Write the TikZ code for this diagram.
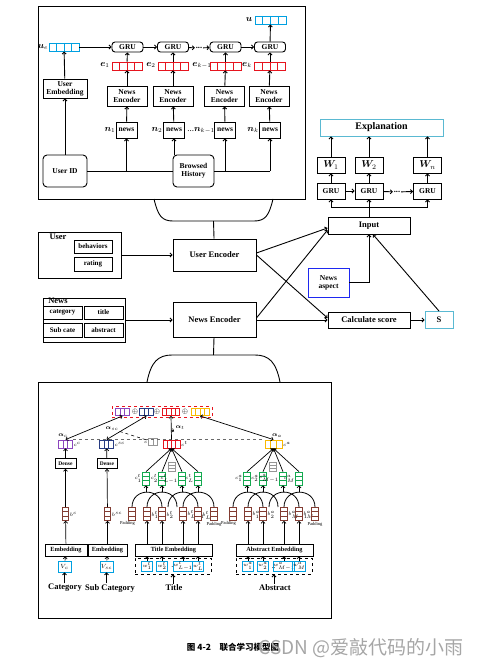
\documentclass[tikz,border=0pt]{standalone}
\usepackage{fontspec}
\setmainfont{Liberation Serif}
\newfontfamily\cjk{Noto Sans CJK SC}
\usepackage{bm}
\usetikzlibrary{arrows.meta}
\usetikzlibrary{calc}

\definecolor{vecblue}{RGB}{0,160,225}
\definecolor{vecred}{RGB}{230,20,30}
\definecolor{expcyan}{RGB}{90,185,210}
\definecolor{aspblue}{RGB}{30,40,240}
\definecolor{vpurple}{RGB}{140,70,190}
\definecolor{vnavy}{RGB}{40,60,130}
\definecolor{vorange}{RGB}{250,185,0}
\definecolor{vgreen}{RGB}{20,170,80}
\definecolor{vbrown}{RGB}{130,60,50}
\definecolor{vgray}{RGB}{150,150,150}

\tikzset{
	box/.style={draw, line width=0.9pt, inner sep=0.5pt, align=center, font=\bfseries\fontsize{7.5}{8}\selectfont},
	rbox/.style={box, rounded corners=4pt},
	gru/.style={box, rounded corners=3pt, minimum width=31, minimum height=10},
	midbox/.style={box, font=\bfseries\fontsize{8.5}{9.5}\selectfont},
	smbox/.style={box, font=\bfseries\fontsize{7}{8}\selectfont},
	tinybox/.style={box, line width=0.8pt, font=\bfseries\fontsize{5.5}{6}\selectfont},
	txt/.style={inner sep=0.5pt, font=\bfseries\fontsize{8.5}{9.5}\selectfont},
	mlab/.style={inner sep=1pt, font=\fontsize{9}{10}\selectfont},
	tag/.style={inner sep=0.3pt, font=\fontsize{4.5}{5}\selectfont},
	hvec/.style n args={4}{draw=#1, line width=0.8pt, minimum width=#3, minimum height=#4, inner sep=0pt,
		path picture={\foreach \k in {1,...,#2}{\draw[#1, line width=0.8pt] ($(path picture bounding box.north west)!{\k/#2}!(path picture bounding box.north east)$) -- ($(path picture bounding box.south west)!{\k/#2}!(path picture bounding box.south east)$);}}},
	vvec/.style={draw=#1, line width=0.7pt, minimum width=6.5, minimum height=13, inner sep=0pt,
		path picture={\foreach \k in {1,2}{\draw[#1, line width=0.7pt] ($(path picture bounding box.north west)!{\k/3}!(path picture bounding box.south west)$) -- ($(path picture bounding box.north east)!{\k/3}!(path picture bounding box.south east)$);}}},
	wbox/.style={draw=vecblue, line width=0.7pt, minimum width=11, minimum height=10, inner sep=0pt, font=\fontsize{4}{4.5}\selectfont},
}

\begin{document}
\begin{tikzpicture}[x=1pt, y=-1pt, line width=0.9pt, >={Straight Barb[length=2pt,width=4pt]}]
	\useasboundingbox (0,0) rectangle (483,668);

	% user side, top box
	\draw (38,6) rectangle (305,199);
	\node[hvec={vecblue}{4}{30}{8}, line width=0.9pt] (ue) at (64,47) {};
	\node[mlab] (uelbl) at (43,47) {$\bm{u}_e$};
	\node[hvec={vecblue}{4}{31}{8}, line width=0.9pt] (u) at (270.5,20) {};
	\node[mlab] (ulbl) at (249,20) {$\bm{u}$};
	\node[gru] (gru1) at (127.5,47) {GRU};
	\node[gru] (gru2) at (173,47) {GRU};
	\node[txt] (gdots) at (199,48) {...};
	\node[gru] (gru3) at (225.5,47) {GRU};
	\node[gru] (gru4) at (270,47) {GRU};
	\draw[->] (ue) -- (gru1);
	\draw[->] (gru1) -- (gru2);
	\draw[->] (gru2) -- (gdots);
	\draw[->] (gdots) -- (gru3);
	\draw[->] (gru3) -- (gru4);
	\draw[->] (gru4) -- (u);
	\node[hvec={vecred}{4}{30}{8}, line width=0.9pt] (e1) at (127,66) {};
	\node[hvec={vecred}{4}{30}{8}, line width=0.9pt] (e2) at (173,66) {};
	\node[hvec={vecred}{4}{31}{8}, line width=0.9pt] (e3) at (225.5,66) {};
	\node[hvec={vecred}{4}{31}{8}, line width=0.9pt] (e4) at (270,66) {};
	\node[mlab] (e1lbl) at (105,65) {$\bm{e}_1$};
	\node[mlab] (e2lbl) at (151,65) {$\bm{e}_2$};
	\node[mlab] (e3lbl) at (202,65) {$\bm{e}_{k-1}$};
	\node[mlab] (e4lbl) at (247,65) {$\bm{e}_k$};
	\draw[->] (e1) -- (gru1);
	\draw[->] (e2) -- (gru2);
	\draw[->] (e3) -- (gru3);
	\draw[->] (e4) -- (gru4);
	\node[box, minimum width=40, minimum height=20] (enc1) at (127,96) {News\\Encoder};
	\node[box, minimum width=40, minimum height=20] (enc2) at (173,96) {News\\Encoder};
	\node[box, minimum width=40, minimum height=20] (enc3) at (224.5,96) {News\\Encoder};
	\node[box, minimum width=40, minimum height=20] (enc4) at (269,96) {News\\Encoder};
	\draw[->] (enc1) -- (e1);
	\draw[->] (enc2) -- (e2);
	\draw[->] (enc3) -- (e3);
	\draw[->] (enc4) -- (e4);
	\node[box, minimum width=21, minimum height=16] (nw1) at (126.5,130) {news};
	\node[box, minimum width=21, minimum height=16] (nw2) at (174,130) {news};
	\node[box, minimum width=21, minimum height=16] (nw3) at (225,130) {news};
	\node[box, minimum width=21, minimum height=16] (nw4) at (270,130) {news};
	\node[mlab] (n1lbl) at (110,130) {$\bm{n}_1$};
	\node[mlab] (n2lbl) at (157,130) {$\bm{n}_2$};
	\node[mlab] (n3lbl) at (201,130) {...$\bm{n}_{k-1}$};
	\node[mlab] (n4lbl) at (253,130) {$\bm{n}_k$};
	\draw[->] (nw1) -- (enc1);
	\draw[->] (nw2) -- (enc2);
	\draw[->] (nw3) -- (enc3);
	\draw[->] (nw4) -- (enc4);
	\node[box, minimum width=44, minimum height=19] (userembed) at (65,88.5) {User\\Embedding};
	\node[rbox, minimum width=44, minimum height=32] (userid) at (65,171) {User ID};
	\node[rbox, minimum width=41, minimum height=32] (browsed) at (193.5,171) {Browsed\\History};
	\draw[->] (userid) -- (userembed);
	\draw[->] (userembed) -- (ue);
	\draw (userid) -- (browsed);
	\draw[->] (userid.east -| nw1) -- (nw1);
	\draw[->] (browsed.north -| nw2) -- (nw2);
	\draw (browsed.east) -- (browsed.east -| nw4);
	\draw[->] (browsed.east -| nw3) -- (nw3);
	\draw[->] (browsed.east -| nw4) -- (nw4);
	\draw (154,199) .. controls (158,216) and (162,221) .. (173,221) -- (254,221) .. controls (265,221) and (269,216) .. (273,199);
	\coordinate (fun1) at (213.5,221);

	% encoders
	\node[midbox, minimum width=83, minimum height=46] (userbox) at (79.5,255) {};
	\node[txt] (userlbl) at (58,237) {User};
	\node[smbox, minimum width=38, minimum height=13] (behav) at (93,246.5) {behaviors};
	\node[smbox, minimum width=38, minimum height=14] (rating) at (93,264) {rating};
	\node[midbox, minimum width=83, minimum height=32] (userenc) at (214.5,255) {User Encoder};
	\draw (fun1) -- (userenc);
	\draw[->] (userbox) -- (userenc);
	\node[midbox, minimum width=82, minimum height=44] (newsbox) at (84,320) {};
	\node[txt] (newslbl) at (58,301) {News};
	\node[smbox, minimum width=39, minimum height=13] (category) at (62.5,312.5) {category};
	\node[smbox, minimum width=39, minimum height=13] (title) at (103.5,312.5) {title};
	\node[smbox, minimum width=39, minimum height=14] (subcate) at (62.5,330) {Sub cate};
	\node[smbox, minimum width=39, minimum height=14] (abstract) at (103.5,330) {abstract};
	\node[midbox, minimum width=83, minimum height=35] (newsenc) at (214.5,320) {News Encoder};
	\draw[->] (newsbox) -- (newsenc);

	% explanation side
	\node[midbox, draw=expcyan, minimum width=123, minimum height=17, font=\bfseries\fontsize{10}{11}\selectfont] (expl) at (381.5,127.5) {Explanation};
	\node[midbox, minimum width=28, minimum height=16, font=\fontsize{10}{11}\selectfont] (w1) at (331,165) {$\bm{W}_1$};
	\node[midbox, minimum width=28, minimum height=16, font=\fontsize{10}{11}\selectfont] (w2) at (369,165) {$\bm{W}_2$};
	\node[midbox, minimum width=28, minimum height=16, font=\fontsize{10}{11}\selectfont] (wn) at (427.5,165) {$\bm{W}_n$};
	\node[box, minimum width=28, minimum height=16] (egru1) at (331,191) {GRU};
	\node[box, minimum width=28, minimum height=16] (egru2) at (369,191) {GRU};
	\node[txt] (edots) at (397,192) {...};
	\node[box, minimum width=28, minimum height=16] (egrun) at (427.5,191) {GRU};
	\draw[->] (egru1) -- (w1);
	\draw[->] (egru2) -- (w2);
	\draw[->] (egrun) -- (wn);
	\draw[->] (w1) -- (w1 |- expl.south);
	\draw[->] (w2) -- (w2 |- expl.south);
	\draw[->] (wn) -- (wn |- expl.south);
	\draw[->] (egru1) -- (egru2);
	\draw[->] (egru2) -- (edots);
	\draw[->] (edots) -- (egrun);
	\node[midbox, minimum width=82, minimum height=17] (input) at (369,225.5) {Input};
	\coordinate (split) at (369,207);
	\draw (egru1 |- split) -- (egrun |- split);
	\draw[->] (input.north) -- (egru2);
	\draw[->] (egru1 |- split) -- (egru1);
	\draw[->] (egrun |- split) -- (egrun);
	\node[box, draw=aspblue, minimum width=41, minimum height=29] (aspect) at (328.5,282.5) {News\\aspect};
	\node[midbox, minimum width=82, minimum height=16] (calc) at (369,320) {Calculate score};
	\node[midbox, draw=expcyan, minimum width=28, minimum height=17] (S) at (439,320) {S};
	\draw[->] ([yshift=2pt]userenc.east) -- ([yshift=-2.5pt]input.west);
	\draw[->] (userenc.east) -- ([yshift=2pt]calc.west);
	\draw[->] ([yshift=2pt]newsenc.east) -- ([yshift=-4.5pt]input.west);
	\draw[->] (newsenc.east) -- (calc.west);
	\draw[->] (aspect.east) -| (input.south);
	\draw[->] (S.north) -- ([xshift=4pt]input.south);
	\draw[->] (calc) -- (S);

	% news side, bottom box
	\coordinate (fun2) at (213.5,355);
	\draw (newsenc) -- (fun2);
	\draw (147,382) .. controls (151,362) and (158,355) .. (172,355) -- (255,355) .. controls (269,355) and (276,362) .. (280,382);
	\draw (38,382) rectangle (331,618);
	\node[draw=vecred, dashed, line width=0.8pt, minimum width=100, minimum height=11] (concat) at (162,412) {};
	\node[hvec={vpurple}{3}{14}{7}] (cp) at (122.5,412) {};
	\node[tag, font=\fontsize{7}{7}\selectfont] (op1) at (135,412) {$\oplus$};
	\node[hvec={vnavy}{3}{14}{7}] (cb) at (146.5,412) {};
	\node[tag, font=\fontsize{7}{7}\selectfont] (op2) at (157,412) {$\oplus$};
	\node[hvec={vecred}{4}{17}{7}] (cr) at (171,412) {};
	\node[tag, font=\fontsize{7}{7}\selectfont] (op3) at (185,412) {$\oplus$};
	\node[hvec={vorange}{4}{18}{7}] (co) at (200,412) {};
	\node[hvec={vpurple}{3}{14}{8}, label={[tag]right:$c^c$}] (ccat) at (65.5,444) {};
	\node[hvec={vnavy}{3}{14}{8}, label={[tag]right:$c^{sc}$}] (csub) at (106.5,444) {};
	\node[hvec={vgray}{2}{9}{7}, label={[tag]left:$c$}] (cgray) at (153,442) {};
	\node[hvec={vecred}{4}{17}{8}, label={[tag]right:$c^t$}] (ctitle) at (171.5,444) {};
	\node[hvec={vorange}{3}{17}{8}, label={[tag]right:$c^a$}] (cabs) at (273.5,444) {};
	\draw[dashed, vgray!70!black, line width=0.8pt] (ccat.north east) -- (cabs.north west);
	\node[mlab, font=\fontsize{6}{6}\selectfont] (ac) at (63,436) {$\bm{\alpha}_c$};
	\node[mlab, font=\fontsize{6}{6}\selectfont] (asc) at (112,429) {$\bm{\alpha}_{sc}$};
	\node[mlab, font=\fontsize{6}{6}\selectfont] (at) at (180,428) {$\bm{\alpha}_t$};
	\node[mlab, font=\fontsize{6}{6}\selectfont] (aa) at (277,436) {$\bm{\alpha}_a$};
	\draw[<->, line width=0.7pt] (ccat.north) -- (cp.south);
	\draw[<->, line width=0.7pt] (csub.north) -- (cb.south);
	\draw[->, line width=0.7pt] (ctitle.north) -- (cr.south);
	\draw[<->, line width=0.7pt] (cabs.north) -- (co.south);
	\draw[->, line width=0.6pt] ($(ctitle.north)!0.4!(cr.south)$) -- (at.south west);
	\draw[dashed, line width=0.6pt] (asc) -- (cgray);
	\node[tinybox, minimum width=21, minimum height=10] (dense1) at (65.5,463.5) {Dense};
	\node[tinybox, minimum width=20, minimum height=10] (dense2) at (107,463.5) {Dense};
	\draw[->, line width=0.7pt] (dense1) -- (ccat);
	\draw[->, line width=0.7pt] (dense2) -- (csub);
	\node[vvec=vbrown, label={[tag]right:$b^c$}] (bcat) at (65.5,514) {};
	\node[vvec=vbrown, label={[tag]right:$b^{sc}$}] (bsub) at (107.5,514) {};
	\draw[->, line width=0.7pt] (bcat) -- (dense1);
	\draw[->, line width=0.7pt] (bsub) -- (dense2);
	\node[tinybox, minimum width=42, minimum height=12, font=\bfseries\fontsize{6.3}{7}\selectfont] (emb1) at (66,550) {Embedding};
	\node[tinybox, minimum width=39, minimum height=12, font=\bfseries\fontsize{6.3}{7}\selectfont] (emb2) at (107.5,550) {Embedding};
	\draw[->, line width=0.7pt] (emb1) -- (bcat);
	\draw[->, line width=0.7pt] (emb2) -- (bsub);
	\node[wbox, minimum width=13, minimum height=11, font=\fontsize{6}{6}\selectfont] (vc) at (64.5,566.5) {$V_c$};
	\node[wbox, minimum width=13, minimum height=11, font=\fontsize{6}{6}\selectfont] (vsc) at (106.5,566.5) {$V_{sc}$};
	\draw[->, line width=0.7pt] (vc) -- (emb1);
	\draw[->, line width=0.7pt] (vsc) -- (emb2);
	\node[txt] (catlbl) at (65,588) {Category};
	\node[txt] (sublbl) at (110,588) {Sub Category};
	\draw[->] (catlbl.north -| vc) -- (vc);
	\draw[->] (sublbl.north -| vsc) -- (vsc);

	\foreach \side/\dx/\len/\src/\tgt/\gap in {t/0/L/Title/ctitle/-, a/101/M/Abstract/cabs/..} {
		\node[vvec=vbrown, label={[tag,anchor=north east]south east:Padding}] (b\side0) at (132+\dx,514) {};
		\node[vvec=vbrown, label={[tag,anchor=west]-15:$b_1^\side$}] (b\side1) at (147+\dx,514) {};
		\node[vvec=vbrown, label={[tag,anchor=west]-15:$b_2^\side$}] (b\side2) at (162+\dx,514) {};
		\node[vvec=vbrown, label={[tag,anchor=west]-15:$b_{\len-1}^\side$}] (b\side3) at (183+\dx,514) {};
		\node[vvec=vbrown, label={[tag,anchor=west]-15:$b_\len^\side$}] (b\side4) at (198+\dx,514) {};
		\node[vvec=vbrown, label={[tag,anchor=north,yshift=-1pt]south:Padding}] (b\side5) at (214+\dx,514) {};
		\node[vvec=vgreen, label={[tag]left:$c_1^\side$}] (g\side1) at (146+\dx,478.5) {};
		\node[vvec=vgreen, label={[tag]left:$c_2^\side$}] (g\side2) at (162+\dx,478.5) {};
		\node[vvec=vgray, minimum height=9] (gd\side) at (172+\dx,467) {};
		\node[vvec=vgreen, label={[tag]left:$c_{\len-1}^\side$}] (g\side3) at (182+\dx,478.5) {};
		\node[vvec=vgreen, label={[tag]left:$c_\len^\side$}] (g\side4) at (198+\dx,478.5) {};
		\coordinate (d\side1) at (168+\dx,507);
		\coordinate (d\side2) at (177+\dx,507);
		\draw[line width=0.8pt] (b\side0.north) .. controls +(0,-20) and +(0,-20) .. (b\side2.north);
		\draw[line width=0.8pt] (b\side1.north) .. controls +(0,-20) and +(0,-20) .. (d\side2);
		\draw[line width=0.8pt] (d\side1) .. controls +(0,-20) and +(0,-20) .. (b\side4.north);
		\draw[line width=0.8pt] (b\side3.north) .. controls +(0,-20) and +(0,-20) .. (b\side5.north);
		\foreach \k in {1,...,4} {
			\draw[->, line width=0.7pt] ([yshift=-7pt]g\side\k.south) -- (g\side\k.south);
			\draw[->, line width=0.7pt] (g\side\k.north) -- (\tgt.south);
		}
		\node[tinybox, minimum width=77, minimum height=12, font=\bfseries\fontsize{6.3}{7}\selectfont] (emb\side) at (173.5+\dx,550) {\src\ Embedding};
		\node[draw, dashed, line width=0.8pt, minimum width=76, minimum height=16] (words\side) at (173+\dx,566) {};
		\node[wbox] (w\side1) at (147+\dx,566) {$w_1^\side$};
		\node[wbox] (w\side2) at (162+\dx,566) {$w_2^\side$};
		\node[tag, font=\bfseries\fontsize{6}{6}\selectfont] (wd\side) at (172.5+\dx,568) {\gap};
		\node[wbox] (w\side3) at (183+\dx,566) {$w_{\len-1}^\side$};
		\node[wbox] (w\side4) at (198+\dx,566) {$w_\len^\side$};
		\foreach \k in {1,...,4} {
			\draw[->, line width=0.7pt] (b\side\k |- emb\side.north) -- (b\side\k.south);
			\draw[->, line width=0.7pt] (w\side\k.north) -- (w\side\k |- emb\side.south);
		}
		\node[txt] (lbl\side) at (174+\dx,588) {\src};
		\draw[->] (lbl\side.north -| words\side) -- (words\side);
	}

	\node[font=\cjk\bfseries\fontsize{8.5}{9}\selectfont] (caption) at (233,647) {图 4-2\quad 联合学习模型图};
	\node[font=\cjk\fontsize{19}{20}\selectfont, text=black!35] (mark) at (361,648) {CSDN @爱敲代码的小雨};
\end{tikzpicture}
\end{document}
